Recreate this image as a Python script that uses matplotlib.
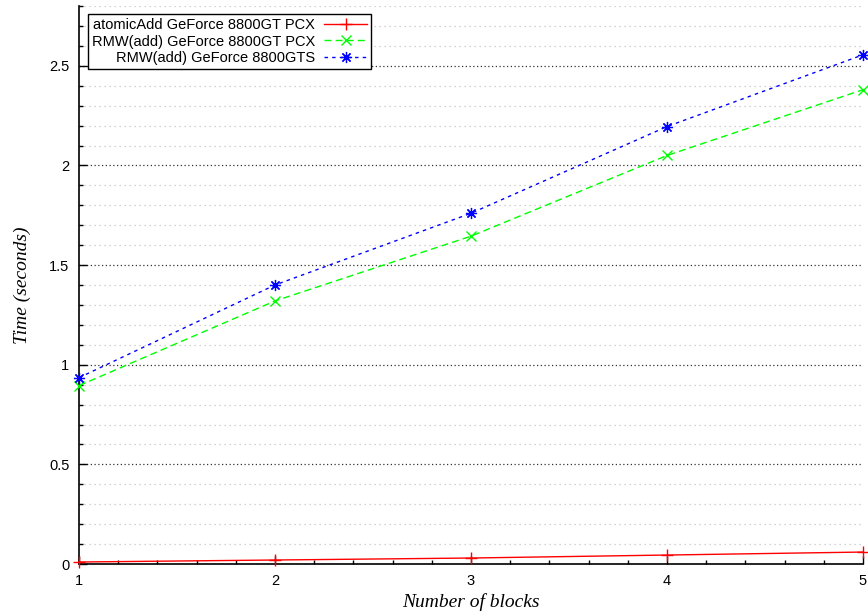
import matplotlib
matplotlib.use("Agg")
import matplotlib.pyplot as plt
from matplotlib.ticker import MultipleLocator, FormatStrFormatter

# values
blocks = [1, 2, 3, 4, 5]
atomic_8800gt = [0.010, 0.020, 0.030, 0.045, 0.060]
rmw_8800gt = [0.895, 1.32, 1.645, 2.05, 2.38]
rmw_8800gts = [0.935, 1.40, 1.76, 2.195, 2.555]
labels = ["atomicAdd GeForce 8800GT PCX",
          "RMW(add) GeForce 8800GT PCX",
          "RMW(add) GeForce 8800GTS"]

sans = ["Liberation Sans", "DejaVu Sans"]
serif = ["Liberation Serif", "DejaVu Serif"]
plt.rcParams["font.family"] = sans

fig = plt.figure(figsize=(8.68, 6.16), dpi=100)
ax = fig.add_axes([79 / 868, 52 / 616, 784 / 868, 558 / 616])

star = (8, 2, 0)
ax.plot(blocks, atomic_8800gt, color="#ff0000", lw=1.0, ls="-",
        marker="+", ms=9, mew=1.0, label=labels[0], clip_on=False, zorder=3)
ax.plot(blocks, rmw_8800gt, color="#00ff00", lw=1.0, ls=(0, (5, 3)),
        marker="x", ms=7, mew=1.0, label=labels[1], clip_on=False, zorder=3)
ax.plot(blocks, rmw_8800gts, color="#0000ff", lw=1.0, ls=(0, (2.5, 3)),
        marker=star, ms=8, mew=0.9, label=labels[2], clip_on=False, zorder=3)

ax.set_xlim(1, 5)
ax.set_ylim(0, 2.8)
ax.xaxis.set_major_locator(MultipleLocator(1))
ax.xaxis.set_minor_locator(MultipleLocator(0.2))
ax.yaxis.set_major_locator(MultipleLocator(0.5))
ax.yaxis.set_minor_locator(MultipleLocator(0.1))
ax.yaxis.set_major_formatter(FormatStrFormatter("%g"))

ax.tick_params(which="both", direction="in", color="black", width=1.0,
               labelsize=10.5, top=False, right=False)
ax.tick_params(which="major", length=6, pad=7)
ax.tick_params(which="minor", length=3)

ax.grid(True, which="major", axis="y", color="#333333", ls=(0, (1, 2)), lw=0.9)
ax.grid(True, which="minor", axis="y", color="#c4c4c4", ls=(0, (1, 3)), lw=0.9)
ax.set_axisbelow(True)

ax.spines["top"].set_visible(False)
ax.spines["right"].set_visible(False)
ax.spines["left"].set_linewidth(1.2)
ax.spines["bottom"].set_linewidth(1.2)

ax.set_xlabel("Number of blocks", family=serif, style="italic", fontsize=14,
              labelpad=4)
ax.set_ylabel("Time (seconds)", family=serif, style="italic", fontsize=14,
              labelpad=13)

leg = ax.legend(loc="upper left", bbox_to_anchor=(0.0115, 0.9857),
                borderaxespad=0, markerfirst=False, numpoints=1,
                fontsize=10.5, handlelength=2.95, handletextpad=0.65,
                labelspacing=0.2, borderpad=0.25, fancybox=False,
                framealpha=1, edgecolor="black")
leg.get_frame().set_linewidth(1.0)

fig.savefig("out.png", dpi=100)
